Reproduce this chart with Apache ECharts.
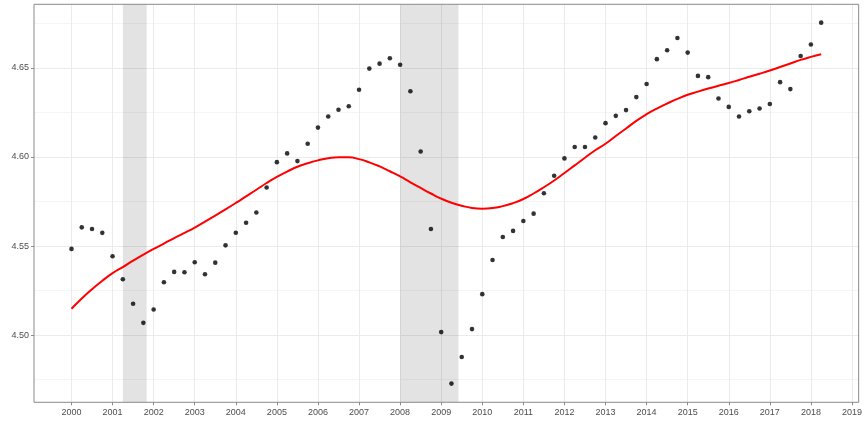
<!DOCTYPE html>
<html>
<head>
<meta charset="utf-8">
<script src="https://cdn.jsdelivr.net/npm/echarts@6/dist/echarts.min.js"></script>
<style>html,body{margin:0;padding:0;background:#fff}#c{width:865px;height:423px}</style>
</head>
<body>
<div id="c"></div>
<script>
// quarterly observations, 2000 Q1 .. 2018 Q2
const startYear = 2000;
const quarterStep = 0.25;
const values = [
  4.5484, 4.5605, 4.5596, 4.5574,
  4.5443, 4.5314, 4.5176, 4.5069,
  4.5144, 4.5297, 4.5355, 4.5353,
  4.5409, 4.5342, 4.5407, 4.5504,
  4.5575, 4.5631, 4.5688, 4.5829,
  4.5971, 4.6020, 4.5977, 4.6074,
  4.6165, 4.6227, 4.6265, 4.6285,
  4.6377, 4.6496, 4.6524, 4.6554,
  4.6518, 4.6369, 4.6031, 4.5596,
  4.5017, 4.4728, 4.4877, 4.5034,
  4.5230, 4.5422, 4.5551, 4.5585,
  4.5641, 4.5682, 4.5796, 4.5895,
  4.5992, 4.6056, 4.6056, 4.6109,
  4.6190, 4.6231, 4.6263, 4.6336,
  4.6410, 4.6549, 4.6599, 4.6668,
  4.6586, 4.6455, 4.6448, 4.6328,
  4.6281, 4.6227, 4.6257, 4.6272,
  4.6297, 4.6420, 4.6381, 4.6567,
  4.6631, 4.6754
];
// smoothed trend, same quarters
const smooth = [
  4.5148, 4.5206, 4.5258, 4.5305,
  4.5348, 4.5382, 4.5418, 4.5452,
  4.5484, 4.5514, 4.5545, 4.5574,
  4.5604, 4.5637, 4.5671, 4.5706,
  4.5742, 4.5779, 4.5816, 4.5854,
  4.5888, 4.5918, 4.5945, 4.5965,
  4.5981, 4.5993, 4.5999, 4.5998,
  4.5988, 4.5970, 4.5947, 4.5920,
  4.5891, 4.5858, 4.5826, 4.5795,
  4.5766, 4.5743, 4.5726, 4.5714,
  4.5710, 4.5713, 4.5724, 4.5741,
  4.5764, 4.5795, 4.5830, 4.5868,
  4.5910, 4.5953, 4.5996, 4.6038,
  4.6074, 4.6118, 4.6160, 4.6203,
  4.6240, 4.6272, 4.6300, 4.6326,
  4.6349, 4.6367, 4.6384, 4.6400,
  4.6415, 4.6432, 4.6450, 4.6467,
  4.6485, 4.6505, 4.6525, 4.6545,
  4.6562, 4.6577
];
const recessions = [[2001.25, 2001.83], [2008.0, 2009.42]];
const xTicks = [2000,2001,2002,2003,2004,2005,2006,2007,2008,2009,2010,2011,2012,2013,2014,2015,2016,2017,2018,2019];
const yTicks = [4.50, 4.55, 4.60, 4.65];
const yMinorTicks = [4.475, 4.525, 4.575, 4.625, 4.675];

const times = values.map((_, i) => startYear + i * quarterStep);
const pts = values.map((v, i) => [times[i], v]);
const line = smooth.map((v, i) => [times[i], v]);

const xMin = 1999.0875, xMax = 2019.1625;
const yMin = 4.4623, yMax = 4.6857;

const chart = echarts.init(document.getElementById('c'), null, {renderer: 'canvas'});
chart.setOption({
  animation: false,
  backgroundColor: '#ffffff',
  grid: {left: 34, right: 4.7, top: 4.3, bottom: 20.7, show: true, borderColor: '#8a8a8a', borderWidth: 1, backgroundColor: 'transparent', z: 10},
  xAxis: [{
    type: 'value', min: xMin, max: xMax,
    axisLine: {show: false},
    axisTick: {show: true, length: 3, lineStyle: {color: '#8a8a8a'}, customValues: xTicks},
    axisLabel: {customValues: xTicks, color: '#4d4d4d', fontSize: 9, margin: 6, fontFamily: 'Liberation Sans, Arial, sans-serif', formatter: v => String(v)},
    splitLine: {show: true, lineStyle: {color: '#ebebeb', width: 1}}
  }],
  yAxis: [{
    type: 'value', min: yMin, max: yMax,
    axisLine: {show: false},
    axisTick: {show: true, length: 3, lineStyle: {color: '#8a8a8a'}, customValues: yTicks},
    axisLabel: {customValues: yTicks, color: '#4d4d4d', fontSize: 9, margin: 5, fontFamily: 'Liberation Sans, Arial, sans-serif', formatter: v => v.toFixed(2)},
    splitLine: {show: true, lineStyle: {color: '#ebebeb', width: 1}}
  }, {
    type: 'value', min: yMin, max: yMax, position: 'left',
    axisLine: {show: false},
    axisTick: {show: false, customValues: yMinorTicks},
    axisLabel: {show: false, customValues: yMinorTicks},
    splitLine: {show: true, lineStyle: {color: '#f5f5f5', width: 1}}
  }],
  series: [{
    type: 'scatter', data: [], xAxisIndex: 0, yAxisIndex: 0, z: 1,
    markArea: {
      silent: true,
      itemStyle: {color: 'rgba(0,0,0,0.11)'},
      data: recessions.map(r => [{xAxis: r[0]}, {xAxis: r[1]}])
    }
  }, {
    type: 'scatter', data: pts, symbol: 'circle', symbolSize: 4.6,
    itemStyle: {color: '#000000'}, z: 3
  }, {
    type: 'line', data: line, smooth: true, showSymbol: false, z: 4,
    lineStyle: {color: '#ff0000', width: 2}
  }]
});
</script>
</body>
</html>
